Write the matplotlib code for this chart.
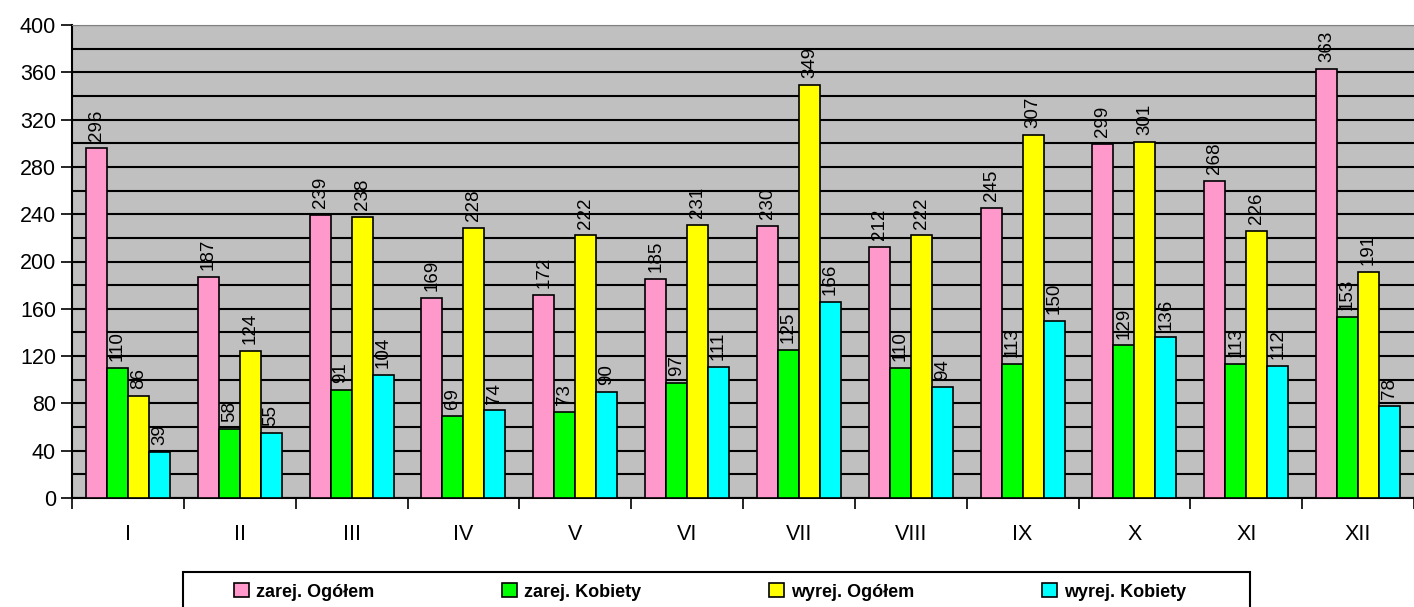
import numpy as np
import matplotlib
matplotlib.use('Agg')
import matplotlib.pyplot as plt
from matplotlib.ticker import MultipleLocator
from matplotlib.patches import Rectangle

months = ['I', 'II', 'III', 'IV', 'V', 'VI', 'VII', 'VIII', 'IX', 'X', 'XI', 'XII']
zarej_ogolem = [296, 187, 239, 169, 172, 185, 230, 212, 245, 299, 268, 363]
zarej_kobiety = [110, 58, 91, 69, 73, 97, 125, 110, 113, 129, 113, 153]
wyrej_ogolem = [86, 124, 238, 228, 222, 231, 349, 222, 307, 301, 226, 191]
wyrej_kobiety = [39, 55, 104, 74, 90, 111, 166, 94, 150, 136, 112, 78]

series = [
    ('zarej. Ogółem', zarej_ogolem, '#FF99CC'),
    ('zarej. Kobiety', zarej_kobiety, '#00FF00'),
    ('wyrej. Ogółem', wyrej_ogolem, '#FFFF00'),
    ('wyrej. Kobiety', wyrej_kobiety, '#00FFFF'),
]

plt.rcParams['font.family'] = ['Liberation Sans', 'DejaVu Sans']

W, H = 1414, 607
fig = plt.figure(figsize=(W / 100, H / 100), dpi=100)
ax = fig.add_axes([72 / W, 1 - 498 / H, 1 - 72 / W, (498 - 25) / H])
ax.set_facecolor('#C0C0C0')

x = np.arange(len(months))
w = 0.1875
for i, (name, vals, col) in enumerate(series):
    pos = x + (i - 1.5) * w
    bars = ax.bar(pos, vals, w, color=col, edgecolor='black', linewidth=1.2,
                  label=name, zorder=3)
    for b, v in zip(bars, vals):
        ax.annotate(str(v), (b.get_x() + b.get_width() / 2, v),
                    xytext=(0, 5), textcoords='offset points',
                    rotation=90, ha='center', va='bottom', fontsize=13.5)

ax.set_ylim(0, 400)
ax.set_xlim(-0.5, 11.5)
ax.yaxis.set_major_locator(MultipleLocator(40))
ax.yaxis.set_minor_locator(MultipleLocator(20))
ax.grid(axis='y', which='both', color='black', linewidth=1.5, zorder=0)
ax.set_axisbelow(True)
ax.tick_params(axis='y', which='major', labelsize=15.5, length=8, width=1.2)
ax.tick_params(axis='y', which='minor', length=4, direction='in', width=1.2)

ax.set_xticks(x)
ax.set_xticklabels(months)
ax.set_xticks(np.arange(-0.5, 12, 1), minor=True)
ax.tick_params(axis='x', which='major', length=0, pad=19, labelsize=15.5)
ax.tick_params(axis='x', which='minor', length=8, width=1.2)

ax.spines['right'].set_visible(False)
ax.spines['top'].set_color('#808080')
ax.spines['left'].set_linewidth(1.5)
ax.spines['bottom'].set_linewidth(1.5)

# legend frame drawn separately (box is wider on the left than the items)
fig.patches.append(Rectangle((183 / W, -0.05), (1250 - 183) / W, 0.05 + (607 - 572) / H,
                             transform=fig.transFigure, facecolor='white',
                             edgecolor='black', linewidth=1.5, zorder=1))
leg = fig.legend(loc='center left', ncol=4, bbox_to_anchor=(227 / W, 1 - 592 / H),
                 frameon=False, handlelength=0.8, handleheight=0.8,
                 handletextpad=0.4, columnspacing=7.1, borderaxespad=0,
                 prop={'weight': 'bold', 'size': 13})
leg.set_zorder(2)

fig.savefig('out.png', dpi=100)
